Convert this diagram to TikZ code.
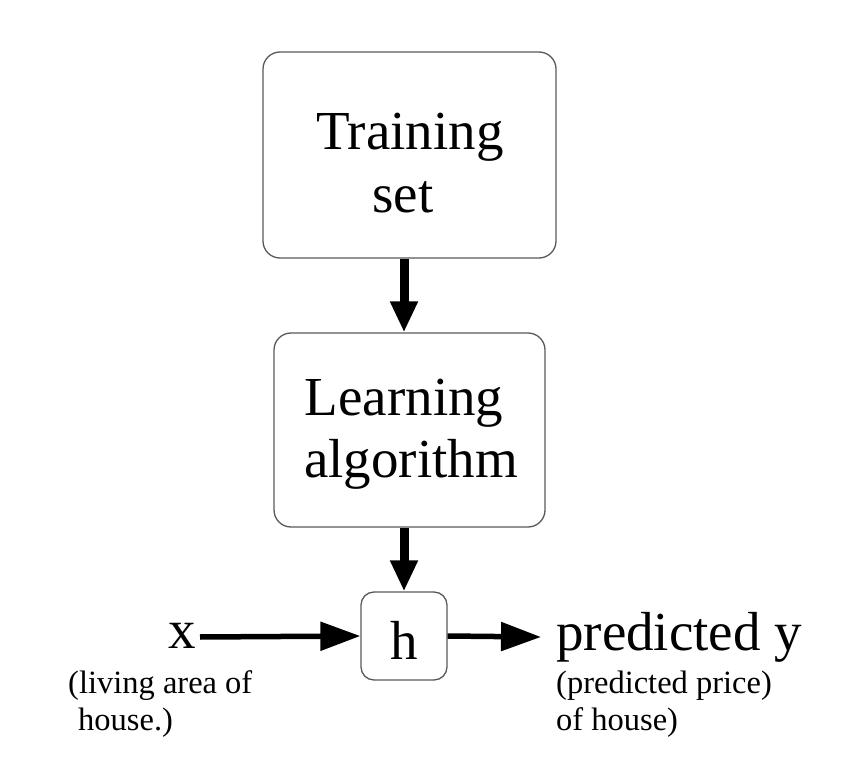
\documentclass[tikz,border=0pt]{standalone}
\usepackage{fontspec}
\setmainfont{Liberation Serif}
\usetikzlibrary{arrows.meta}
\begin{document}
\begin{tikzpicture}[x=1pt,y=-1pt,
  box/.style={draw=black!65,line width=1.3pt,rounded corners=17pt,inner sep=0pt},
  big/.style={font=\fontsize{55}{62}\selectfont,inner sep=0pt,anchor=base},
  small/.style={font=\fontsize{32.5}{37}\selectfont,inner sep=0pt,anchor=base west},
  varrow/.style={line width=9pt,-{Triangle[length=31pt,width=26pt]}},
  harrow/.style={line width=5.5pt,-{Triangle[length=40pt,width=28pt]}}]
\useasboundingbox (0,0) rectangle (852,778);
\node[box,minimum width=293pt,minimum height=206pt] (train) at (409.5,155) {};
\node[box,minimum width=271pt,minimum height=194pt] (learn) at (409.5,430) {};
\node[box,minimum width=86pt,minimum height=88pt,rounded corners=13pt] (hbox) at (404,636) {};
\node[big] (t1) at (410,150) {Training};
\node[big] (t2) at (403,213) {set};
\node[big] (l1) at (404,415) {Learning};
\node[big] (l2) at (411,477) {algorithm};
\node[big] (hl) at (404,659) {h};
\node[big,anchor=base east] (xlab) at (196,648) {x};
\node[big,anchor=base west] (ylab) at (556,650) {predicted y};
\node[small] (xs1) at (68,693) {(living area of};
\node[small] (xs2) at (78,730) {house.)};
\node[small] (ys1) at (556,693) {(predicted price)};
\node[small] (ys2) at (556,730) {of house)};
\coordinate (xstart) at (200,637);
\coordinate (yend) at (541,637);
\draw[varrow] (train.south -| hbox) -- (learn.north -| hbox);
\draw[varrow] (learn.south -| hbox) -- (hbox.north);
\draw[harrow] (xstart) -- (hbox.west);
\draw[harrow] (hbox.east) -- (yend);
\end{tikzpicture}
\end{document}
